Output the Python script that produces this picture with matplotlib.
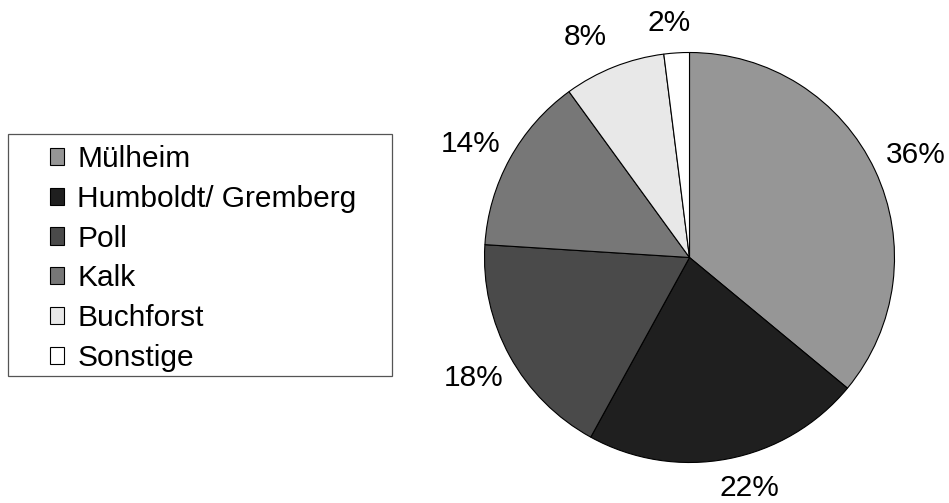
import matplotlib
matplotlib.use('Agg')
import matplotlib.pyplot as plt
import numpy as np
from matplotlib.patches import Rectangle

labels = ['Mülheim', 'Humboldt/ Gremberg', 'Poll', 'Kalk', 'Buchforst', 'Sonstige']
values = [36, 22, 18, 14, 8, 2]
colors = ['#969696', '#1f1f1f', '#4a4a4a', '#777777', '#e8e8e8', '#ffffff']

# per-label placement (radius factor, angle shift in degrees), as in the reference
label_dist = [1.21, 1.16, 1.205, 1.20, 1.19, 1.15]
label_shift = [-0.8, 3.7, 0.3, 1.4, 3.7, 1.4]

plt.rcParams['font.family'] = ['Liberation Sans', 'DejaVu Sans']

W, H = 949, 503
fig = plt.figure(figsize=(W / 100, H / 100), dpi=100)

# pie: centre (689.5, 257.5) px from top-left, radius 205 px
cx, cy, r = 689.5, 257.5, 205
ax = fig.add_axes([(cx - r) / W, (H - cy - r) / H, 2 * r / W, 2 * r / H])
wedges, texts, autotexts = ax.pie(
    values, colors=colors, startangle=90, counterclock=False,
    autopct='%1.0f%%', pctdistance=1.19,
    wedgeprops=dict(edgecolor='black', linewidth=0.8),
    textprops=dict(fontsize=21.5, color='black'))
for w, t, d, s in zip(wedges, autotexts, label_dist, label_shift):
    a = np.deg2rad((w.theta1 + w.theta2) / 2 + s)
    t.set_position((d * np.cos(a), d * np.sin(a)))
ax.set_xlim(-1, 1)
ax.set_ylim(-1, 1)
ax.set_aspect('equal')

# legend box
fig.patches.append(Rectangle((8 / W, 1 - 376 / H), 384 / W, 242 / H,
                             transform=fig.transFigure, facecolor='white',
                             edgecolor='#555555', linewidth=0.9, zorder=0))

fig.legend(wedges, labels, loc='upper left',
           bbox_to_anchor=(50 / W, 1 - 145 / H),
           frameon=False, fontsize=21.5, borderpad=0, borderaxespad=0,
           handlelength=0.47, handleheight=0.5, handletextpad=0.45,
           labelspacing=0.395)

fig.savefig('out.png', dpi=100)
